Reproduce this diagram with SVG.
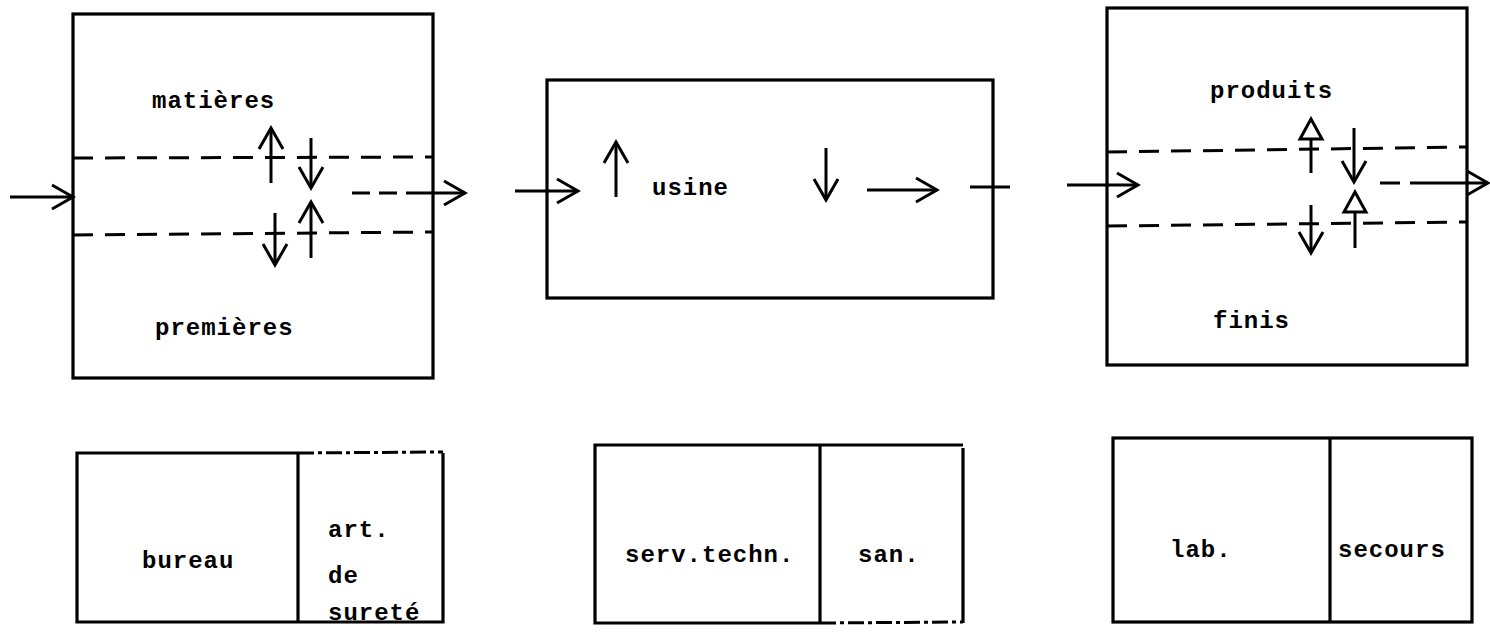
<svg xmlns="http://www.w3.org/2000/svg" width="1490" height="634" viewBox="0 0 1490 634">
<style>
.box{fill:none;stroke:#000;stroke-width:3.2}
.brk{fill:none;stroke:#000;stroke-width:3;stroke-dasharray:16 4 4 4}
.dash{fill:none;stroke:#000;stroke-width:3;stroke-dasharray:20 12}
.ln{fill:none;stroke:#000;stroke-width:3}
.arr{fill:none;stroke:#000;stroke-width:3;marker-end:url(#ah)}
.harr{fill:none;stroke:#000;stroke-width:3;marker-end:url(#hh)}
text{font-family:"Liberation Mono","Courier New",monospace;font-weight:bold;font-size:24px;letter-spacing:1px;fill:#000}
</style>
<defs>
<marker id="ah" viewBox="0 0 26 28" refX="23" refY="14" markerWidth="26" markerHeight="28" markerUnits="userSpaceOnUse" orient="auto">
<path d="M2,2 L23,14 L2,26" fill="none" stroke="#000" stroke-width="3"/>
</marker>
<marker id="hh" viewBox="0 0 26 28" refX="23" refY="14" markerWidth="26" markerHeight="28" markerUnits="userSpaceOnUse" orient="auto">
<path d="M3,3 L23,14 L3,25 Z" fill="#fff" stroke="#000" stroke-width="3"/>
</marker>
</defs>
<rect width="1490" height="634" fill="#fff"/>

<g id="matieres-premieres">
<rect class="box" x="73" y="14" width="360" height="364"/>
<line class="dash" x1="73" y1="158" x2="433" y2="157"/>
<line class="dash" x1="73" y1="235" x2="433" y2="232"/>
<text x="152" y="108">matières</text>
<text x="155" y="335">premières</text>
</g>

<g id="usine">
<rect class="box" x="547" y="80" width="446" height="218"/>
<text x="652" y="195">usine</text>
</g>

<g id="produits-finis">
<rect class="box" x="1107" y="8" width="360" height="357"/>
<line class="dash" x1="1107" y1="152" x2="1467" y2="147"/>
<line class="dash" x1="1107" y1="226" x2="1467" y2="222"/>
<text x="1210" y="98">produits</text>
<text x="1213" y="328">finis</text>
</g>

<g id="bureau-surete">
<path class="box" d="M298,453 L77,453 L77,622 L443,622 L443,453"/>
<line class="brk" x1="298" y1="453" x2="443" y2="452"/>
<line class="box" x1="298" y1="453" x2="298" y2="622"/>
<text x="142" y="568">bureau</text>
<text x="328" y="537">art.</text>
<text x="328" y="583">de</text>
<text x="328" y="620">sureté</text>
</g>

<g id="serv-san">
<path class="box" d="M820,623 L595,623 L595,445 L963,445 M963,448 L963,623"/>
<line class="brk" x1="820" y1="623" x2="963" y2="622"/>
<line class="box" x1="820" y1="445" x2="820" y2="623"/>
<text x="625" y="562">serv.techn.</text>
<text x="858" y="562">san.</text>
</g>

<g id="lab-secours">
<rect class="box" x="1113" y="438" width="359" height="184"/>
<line class="box" x1="1330" y1="438" x2="1330" y2="622"/>
<text x="1170" y="557">lab.</text>
<text x="1338" y="557">secours</text>
</g>

<g id="connectors">
<line class="arr" x1="10" y1="197" x2="73" y2="197"/>
<line class="arr" x1="271" y1="183" x2="271" y2="128"/>
<line class="arr" x1="311" y1="138" x2="311" y2="188"/>
<line class="arr" x1="275" y1="213" x2="275" y2="265"/>
<line class="arr" x1="311" y1="258" x2="311" y2="202"/>
<line class="dash" x1="352" y1="193" x2="413" y2="193" style="stroke-dasharray:18 9"/>
<line class="arr" x1="413" y1="193" x2="465" y2="193"/>

<line class="arr" x1="515" y1="191" x2="578" y2="191"/>
<line class="arr" x1="616" y1="197" x2="616" y2="142"/>
<line class="arr" x1="826" y1="148" x2="826" y2="200"/>
<line class="arr" x1="867" y1="190" x2="937" y2="190"/>
<line class="ln" x1="970" y1="187" x2="1010" y2="187"/>

<line class="arr" x1="1067" y1="185" x2="1138" y2="185"/>
<line class="harr" x1="1311" y1="173" x2="1311" y2="119"/>
<line class="arr" x1="1354" y1="128" x2="1354" y2="182"/>
<line class="arr" x1="1311" y1="205" x2="1311" y2="253"/>
<line class="harr" x1="1355" y1="248" x2="1355" y2="192"/>
<line class="dash" x1="1380" y1="183" x2="1430" y2="183" style="stroke-dasharray:20 10"/>
<line class="arr" x1="1430" y1="183" x2="1488" y2="183"/>
</g>
</svg>
